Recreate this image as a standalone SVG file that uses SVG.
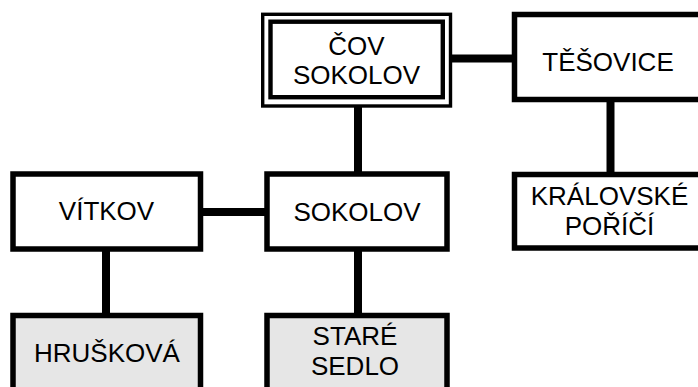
<svg xmlns="http://www.w3.org/2000/svg" width="698" height="387" viewBox="0 0 698 387">
  <style>
    .box { fill: #ffffff; stroke: #000000; stroke-width: 5.5; }
    .box.grey { fill: #e6e6e6; }
    .outer { fill: #ffffff; stroke: #000000; stroke-width: 3.4; }
    .inner { fill: none; stroke: #000000; stroke-width: 4.4; }
    .link { stroke: #000000; stroke-width: 8; fill: none; }
    text { font-family: "Liberation Sans", Arial, sans-serif; font-size: 26px; fill: #000000; text-anchor: middle; }
  </style>
  <rect width="698" height="387" fill="#ffffff"/>

  <!-- connectors -->
  <g id="connectors">
    <line class="link" x1="450" y1="58.5" x2="516" y2="58.5"/>
    <line class="link" x1="358" y1="106" x2="358" y2="176"/>
    <line class="link" x1="200" y1="212" x2="268" y2="212"/>
    <line class="link" x1="106" y1="249" x2="106" y2="317"/>
    <line class="link" x1="358" y1="249" x2="358" y2="317"/>
    <line class="link" x1="610.5" y1="100" x2="610.5" y2="176"/>
  </g>

  <!-- nodes -->
  <g id="cov-sokolov">
    <rect class="outer" x="262.7" y="14.3" width="187.8" height="91.7"/>
    <rect class="inner" x="270.5" y="21.7" width="172.3" height="75.5"/>
    <text x="356.5" y="55">ČOV</text>
    <text x="356.5" y="84">SOKOLOV</text>
  </g>

  <g id="tesovice">
    <rect class="box" x="514.5" y="14.5" width="187" height="85"/>
    <text x="608" y="71">TĚŠOVICE</text>
  </g>

  <g id="vitkov">
    <rect class="box" x="13" y="174" width="187.5" height="75"/>
    <text x="106.5" y="220">VÍTKOV</text>
  </g>

  <g id="sokolov">
    <rect class="box" x="267" y="174" width="180" height="75"/>
    <text x="357" y="221">SOKOLOV</text>
  </g>

  <g id="kralovske-porici">
    <rect class="box" x="514.5" y="174.5" width="187" height="73.5"/>
    <text x="609.5" y="205">KRÁLOVSKÉ</text>
    <text x="609.5" y="235">POŘÍČÍ</text>
  </g>

  <g id="hruskova">
    <rect class="box grey" x="13" y="315.5" width="187.5" height="82"/>
    <text x="107" y="362">HRUŠKOVÁ</text>
  </g>

  <g id="stare-sedlo">
    <rect class="box grey" x="267" y="315.5" width="180" height="82"/>
    <text x="355" y="345">STARÉ</text>
    <text x="355" y="375">SEDLO</text>
  </g>
</svg>
